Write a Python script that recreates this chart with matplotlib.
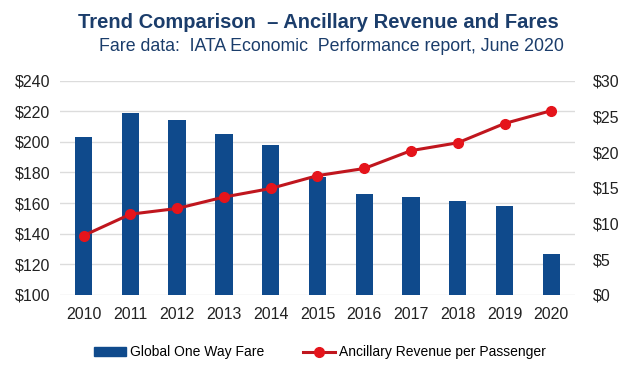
import numpy as np
import matplotlib
matplotlib.use("Agg")
import matplotlib.pyplot as plt
from matplotlib.lines import Line2D
from matplotlib.patches import Patch

plt.rcParams['font.family'] = ['Liberation Sans', 'DejaVu Sans']

# ---- Data ----
years = ["2010", "2011", "2012", "2013", "2014", "2015",
         "2016", "2017", "2018", "2019", "2020"]
fare = [203.4, 218.7, 214.5, 205.2, 198.0, 177.0,
        165.8, 164.2, 161.2, 158.3, 126.8]
ancillary = [8.3, 11.3, 12.1, 13.7, 14.9, 16.7,
             17.7, 20.2, 21.3, 24.0, 25.8]
left_ticks = [100, 120, 140, 160, 180, 200, 220, 240]
right_ticks = [0, 5, 10, 15, 20, 25, 30]

bar_color = "#0F4A8C"
line_color = "#C0161E"
marker_color = "#E5141B"
title_color = "#1B3D6B"
grid_color = "#DCDCDC"

fig = plt.figure(figsize=(6.4, 3.7), dpi=100)
ax1 = fig.add_axes([0.094, 0.203, 0.804, 0.579])
x = np.arange(len(years))

# ---- Bars (left axis) ----
ax1.bar(x, fare, width=0.37, color=bar_color, bottom=0, zorder=2)
ax1.set_ylim(100, 240)
ax1.set_xlim(-0.5, len(years) - 0.5)
ax1.set_yticks(left_ticks)
ax1.set_yticklabels([f"${v}" for v in left_ticks])
ax1.set_xticks(x)
ax1.set_xticklabels(years)
ax1.yaxis.grid(True, color=grid_color, linewidth=1, zorder=0)
ax1.set_axisbelow(True)
ax1.tick_params(axis="both", length=0, labelsize=11.5, colors="#222222")
ax1.tick_params(axis="x", pad=9)
ax1.tick_params(axis="y", pad=7)
for s in ax1.spines.values():
    s.set_visible(False)

# ---- Line (right axis) ----
ax2 = ax1.twinx()
ax2.plot(x, ancillary, color=line_color, linewidth=2.2, marker="o",
         markersize=7, markerfacecolor=marker_color,
         markeredgecolor=marker_color, zorder=3)
ax2.set_ylim(0, 30)
ax2.set_yticks(right_ticks)
ax2.set_yticklabels([f"${v}" for v in right_ticks])
ax2.tick_params(axis="y", length=0, labelsize=11.5, pad=13, colors="#222222")
for s in ax2.spines.values():
    s.set_visible(False)

# ---- Titles ----
fig.text(0.498, 0.94, "Trend Comparison  \u2013 Ancillary Revenue and Fares",
         ha="center", va="center", fontsize=14.5, fontweight="bold",
         color=title_color)
fig.text(0.518, 0.873, "Fare data:  IATA Economic  Performance report, June 2020",
         ha="center", va="center", fontsize=12.8, color=title_color)

# ---- Legend ----
handles = [
    Patch(facecolor=bar_color, edgecolor=bar_color),
    Line2D([0], [0], color=line_color, linewidth=2.2, marker="o",
           markersize=7, markerfacecolor=marker_color,
           markeredgecolor=marker_color),
]
fig.legend(handles, ["Global One Way Fare", "Ancillary Revenue per Passenger"],
           loc="center", bbox_to_anchor=(0.5, 0.048), ncol=2, frameon=False,
           fontsize=10, handlelength=2.3, handleheight=0.6,
           columnspacing=2.8, handletextpad=0.3)

fig.savefig("out.png", dpi=100)
